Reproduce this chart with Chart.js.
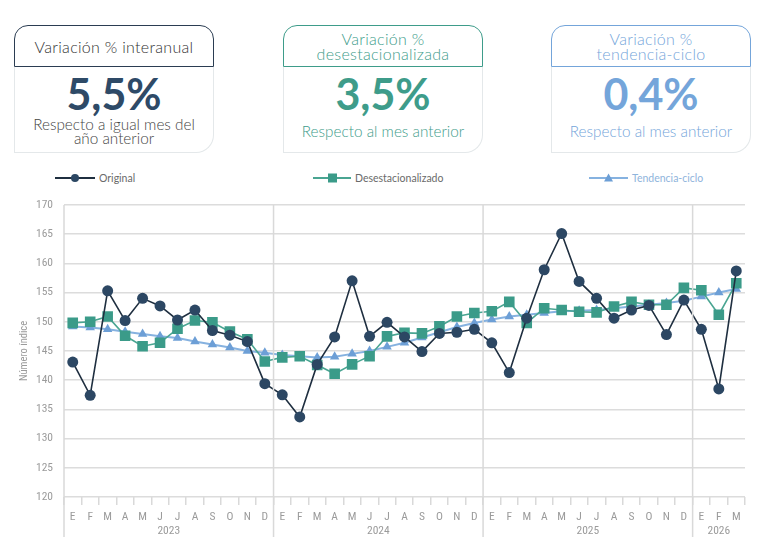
<!DOCTYPE html>
<html><head><meta charset="utf-8">
<script src="https://cdn.jsdelivr.net/npm/chart.js@4.4.1/dist/chart.umd.min.js"></script>
<style>
html,body{margin:0;padding:0;background:#fff;width:767px;height:551px;overflow:hidden;font-family:Lato,"Open Sans",sans-serif;}
.card{position:absolute;top:25px;width:200px;height:128px;}
.hdr{position:absolute;left:0;top:0;width:200px;height:42px;box-sizing:border-box;border:1.6px solid;border-radius:14px 14px 0 0;display:flex;align-items:center;justify-content:center;text-align:center;font-size:16px;line-height:15px;font-weight:300;letter-spacing:0.3px;}
.bd{position:absolute;left:0;top:42px;width:200px;height:86px;box-sizing:border-box;border:1px solid #e4e8ea;border-top:none;border-radius:0 0 18px 0;}
.val{position:absolute;left:0;width:200px;top:47px;height:44px;line-height:44px;text-align:center;font-size:43px;font-weight:bold;}
.sub{position:absolute;left:0;width:200px;text-align:center;font-size:15.3px;line-height:14px;font-weight:300;}
.leg{position:absolute;top:171px;height:14px;font-size:10.5px;color:#6a6a6a;display:flex;align-items:center;}
.leg svg{margin-right:4px;}
#wrap{position:absolute;left:0;top:187px;width:767px;height:364px;}
</style></head><body>
<div class="card" style="left:14px">
  <div class="hdr" style="border-color:#2b3d52;color:#333">Variación % interanual</div>
  <div class="bd"></div>
  <div class="val" style="color:#2e4a67">5,5%</div>
  <div class="sub" style="top:92px;color:#444">Respecto a igual mes del<br>año anterior</div>
</div>
<div class="card" style="left:283px">
  <div class="hdr" style="border-color:#3e9c8a;color:#3e9c8a">Variación %<br>desestacionalizada</div>
  <div class="bd"></div>
  <div class="val" style="color:#3e9c8a">3,5%</div>
  <div class="sub" style="top:99px;color:#3e9c8a">Respecto al mes anterior</div>
</div>
<div class="card" style="left:551px">
  <div class="hdr" style="border-color:#74a5da;color:#74a5da">Variación %<br>tendencia-ciclo</div>
  <div class="bd"></div>
  <div class="val" style="color:#74a5da">0,4%</div>
  <div class="sub" style="top:99px;color:#74a5da">Respecto al mes anterior</div>
</div>

<div class="leg" style="left:55px"><svg width="40" height="12"><line x1="0" y1="6" x2="40" y2="6" stroke="#1f2f40" stroke-width="2"/><circle cx="20" cy="6" r="4" fill="#2c4763"/></svg><span>Original</span></div>
<div class="leg" style="left:313px"><svg width="38" height="12"><line x1="0" y1="6" x2="38" y2="6" stroke="#4aa592" stroke-width="2"/><rect x="15" y="1.5" width="9" height="9" fill="#3b9b89"/></svg><span>Desestacionalizado</span></div>
<div class="leg" style="left:589px"><svg width="39" height="12"><line x1="0" y1="6" x2="39" y2="6" stroke="#86b2e0" stroke-width="2"/><polygon points="19.5,1.5 24,9.5 15,9.5" fill="#6d9fd6"/></svg><span style="color:#8fb4dc">Tendencia-ciclo</span></div>

<div id="wrap"><canvas id="c" width="767" height="364"></canvas></div>
<script>
const months = ['E','F','M','A','M','J','J','A','S','O','N','D',
                'E','F','M','A','M','J','J','A','S','O','N','D',
                'E','F','M','A','M','J','J','A','S','O','N','D',
                'E','F','M'];
const years = ['2023','2024','2025','2026'];
const yearStart = [0,12,24,36];
const yTicks = [120,125,130,135,140,145,150,155,160,165,170];

const original = [143.1,137.4,155.3,150.2,154.0,152.7,150.3,152.0,148.5,147.7,146.6,139.4,
                  137.5,133.7,142.7,147.4,157.0,147.5,149.9,147.4,144.9,148.0,148.2,148.7,
                  146.4,141.3,150.6,158.9,165.1,156.9,154.0,150.6,152.0,152.8,147.8,153.7,
                  148.7,138.5,158.7];
const desest = [149.8,150.0,150.9,147.6,145.8,146.4,148.8,150.2,149.9,148.3,147.0,143.2,
                143.9,144.1,142.6,141.1,142.7,144.1,147.5,148.1,148.0,149.2,150.9,151.5,
                151.8,153.4,149.8,152.3,152.0,151.7,151.6,152.6,153.4,152.9,152.9,155.8,
                155.4,151.2,156.6];
const trend = [149.2,149.0,148.7,148.3,147.9,147.5,147.2,146.6,146.1,145.6,145.0,144.7,
               144.3,144.1,143.9,144.0,144.5,145.0,145.7,146.4,147.3,148.2,149.1,149.8,
               150.4,150.9,151.2,151.5,151.8,151.9,152.0,152.3,152.6,152.9,153.2,153.6,
               154.3,155.0,155.6];

const tickFont = {family:"'Liberation Sans Narrow','Roboto Condensed',Roboto,sans-serif", size:11.5};

const yearPlugin = {
  id:'years',
  afterDraw(chart){
    const ctx = chart.ctx, xs = chart.scales.x, ca = chart.chartArea;
    const bottom = ca.bottom + 40;
    const step = xs.getPixelForValue(1) - xs.getPixelForValue(0);
    ctx.save();
    ctx.strokeStyle = '#d9d9d9';
    ctx.lineWidth = 1.5;
    const bounds = yearStart.map(i => xs.getPixelForValue(i) - step/2);
    bounds.push(ca.right);
    ctx.beginPath();
    ctx.moveTo(ca.left, ca.top); ctx.lineTo(ca.left, bottom);
    for (let k=1;k<yearStart.length;k++){
      ctx.moveTo(bounds[k], ca.top); ctx.lineTo(bounds[k], bottom);
    }
    ctx.stroke();
    ctx.fillStyle = '#9b9b9b';
    ctx.font = "11.5px 'Liberation Sans Narrow','Roboto Condensed',Roboto,sans-serif";
    ctx.textAlign = 'center'; ctx.textBaseline = 'middle';
    for (let k=0;k<years.length;k++){
      ctx.fillText(years[k], (bounds[k]+bounds[k+1])/2, ca.bottom + 34);
    }
    ctx.restore();
  }
};

new Chart(document.getElementById('c'), {
  type:'line',
  data:{
    labels: months,
    datasets:[
      {label:'Original', data:original, borderColor:'#1f2f40', backgroundColor:'#2c4763', borderWidth:1.6,
       pointStyle:'circle', pointRadius:5.5, pointBorderWidth:0, pointBackgroundColor:'#2c4763'},
      {label:'Desestacionalizado', data:desest, borderColor:'#4aa592', backgroundColor:'#3b9b89', borderWidth:1.6,
       pointStyle:'rect', pointRadius:7.5, pointBorderWidth:0, pointBackgroundColor:'#3b9b89'},
      {label:'Tendencia-ciclo', data:trend, borderColor:'#86b2e0', backgroundColor:'#6d9fd6', borderWidth:2,
       pointStyle:'triangle', pointRadius:5.5, pointBorderWidth:0, pointBackgroundColor:'#6d9fd6'}
    ]
  },
  options:{
    responsive:false, animation:false, devicePixelRatio:1,
    layout:{padding:{top:11,right:22,left:0,bottom:0}},
    plugins:{legend:{display:false}, tooltip:{enabled:false}},
    scales:{
      x:{
        type:'category', offset:true,
        grid:{display:true, drawOnChartArea:false, drawTicks:true, tickLength:8, color:'#d9d9d9', tickColor:'#d9d9d9', lineWidth:1.5, offset:true},
        border:{display:false},
        ticks:{color:'#9b9b9b', font:tickFont, maxRotation:0, autoSkip:false, padding:5},
        afterFit(s){ s.height = 54; }
      },
      y:{
        min:120, max:170,
        afterBuildTicks(s){ s.ticks = yTicks.map(v=>({value:v})); },
        grid:{color:'#dcdcdc', lineWidth:1.5, drawTicks:false},
        border:{display:false},
        ticks:{color:'#9b9b9b', font:tickFont, padding:11},
        title:{display:true, text:'Número índice', color:'#9b9b9b', font:{family:"'Liberation Sans Narrow','Roboto Condensed',Roboto,sans-serif", size:10.5}, padding:{top:18,bottom:0}},
        afterFit(s){ s.width = 64; }
      }
    }
  },
  plugins:[yearPlugin]
});
</script>
</body></html>
